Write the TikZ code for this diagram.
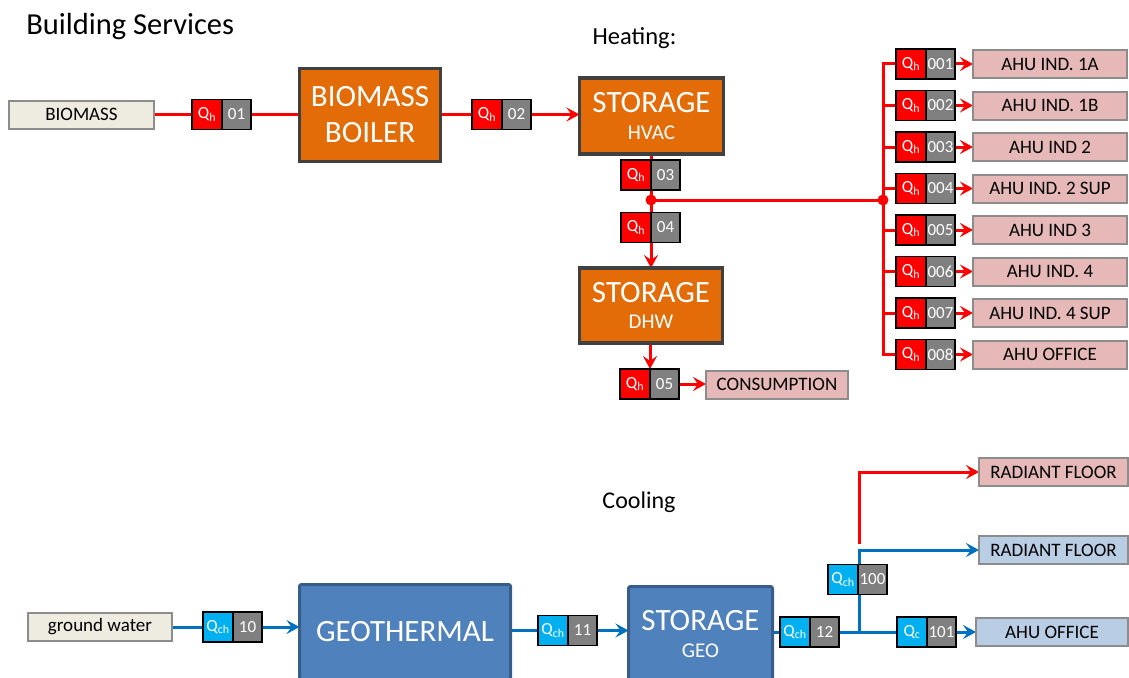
\documentclass[tikz,border=0pt]{standalone}
\usepackage{fontspec}
\setmainfont{Carlito}
\usetikzlibrary{arrows.meta}
\definecolor{hred}{HTML}{FF0000}
\definecolor{cblue}{HTML}{0070C0}
\definecolor{qblue}{HTML}{00B0F0}
\definecolor{ngray}{HTML}{808080}
\definecolor{boxorange}{HTML}{E36C09}
\definecolor{boxorangeb}{HTML}{404040}
\definecolor{boxblue}{HTML}{4F81BD}
\definecolor{boxblueb}{HTML}{385D8A}
\definecolor{pinkbox}{HTML}{E6B9B8}
\definecolor{lbluebox}{HTML}{B9CDE5}
\definecolor{beige}{HTML}{EEECE1}
\definecolor{lgray}{HTML}{8C8C8C}
\pgfdeclarelayer{bg}
\pgfsetlayers{bg,main}
\newcommand{\qbadge}[6]{%
  \node[qpart,fill=#4,anchor=west] (#1q) at (#2,#3) {Q\textsubscript{#5}};
  \node[npart,anchor=west] (#1n) at (#1q.east) {#6};}
\begin{document}
\begin{tikzpicture}[x=1pt,y=-1pt,
  every node/.style={outer sep=0pt},
  qpart/.style={draw=black,line width=1.2pt,minimum width=30pt,minimum height=30pt,inner sep=0pt,text=white,font=\fontsize{17}{19}\selectfont},
  npart/.style={qpart,fill=ngray,minimum width=29pt},
  lbl/.style={draw=lgray,line width=2pt,minimum height=28pt,inner sep=0pt,text=black,font=\fontsize{19}{21}\selectfont},
  pink/.style={lbl,fill=pinkbox},
  lblue/.style={lbl,fill=lbluebox},
  obox/.style={draw=boxorangeb,fill=boxorange,line width=3.5pt,inner sep=0pt,text=white,align=center},
  bbox/.style={draw=boxblueb,fill=boxblue,line width=3pt,rounded corners=2pt,inner sep=0pt,text=white,align=center},
  hl/.style={draw=hred,line width=3pt},
  cl/.style={draw=cblue,line width=3pt},
  arr/.style={-{Stealth[length=13pt,width=14pt,inset=5pt]}},
  dot/.style={circle,fill=hred,inner sep=0pt,minimum size=11pt}
]
\useasboundingbox (0,0) rectangle (1129,677);

% titles
\node[anchor=base west,font=\fontsize{30.5}{33}\selectfont] (title) at (23,35) {Building Services};
\node[anchor=base,font=\fontsize{24.5}{27}\selectfont] (heating) at (634.5,45) {Heating:};
\node[anchor=base,font=\fontsize{24}{27}\selectfont] (cooling) at (639,508) {Cooling};

% ---------- heating ----------
\node[lbl,fill=beige,minimum width=145pt] (biomass) at (81.5,114.5) {BIOMASS};
\qbadge{b01}{192}{114.5}{hred}{h}{01}
\node[obox,minimum width=141pt,minimum height=93pt,font=\fontsize{31}{36}\selectfont] (boiler) at (370,115) {BIOMASS\\BOILER};
\qbadge{b02}{472}{114.5}{hred}{h}{02}
\node[obox,minimum width=144pt,minimum height=76pt] (hvac) at (651.5,116)
  {{\fontsize{31}{31}\selectfont STORAGE}\\[12pt]{\fontsize{21}{23}\selectfont HVAC}};
\qbadge{b03}{621}{175}{hred}{h}{03}
\node[dot] (j1) at (651,200) {};
\node[dot] (j2) at (883,200) {};
\qbadge{b04}{621}{227.5}{hred}{h}{04}
\node[obox,minimum width=143pt,minimum height=75pt] (dhw) at (651,305.5)
  {{\fontsize{31}{31}\selectfont STORAGE}\\[12pt]{\fontsize{21}{23}\selectfont DHW}};
\qbadge{b05}{620}{384}{hred}{h}{05}
\node[pink,minimum width=142pt] (cons) at (777,384.5) {CONSUMPTION};

% AHU column
\qbadge{r1}{896}{64}{hred}{h}{001}
\qbadge{r2}{896}{105.5}{hred}{h}{002}
\qbadge{r3}{896}{147}{hred}{h}{003}
\qbadge{r4}{896}{188.5}{hred}{h}{004}
\qbadge{r5}{896}{230}{hred}{h}{005}
\qbadge{r6}{896}{271.5}{hred}{h}{006}
\qbadge{r7}{896}{313}{hred}{h}{007}
\qbadge{r8}{896}{354.5}{hred}{h}{008}
\node[pink,minimum width=154pt] (a1) at (1050,64) {AHU IND. 1A};
\node[pink,minimum width=154pt] (a2) at (1050,105.5) {AHU IND. 1B};
\node[pink,minimum width=154pt] (a3) at (1050,147) {AHU IND 2};
\node[pink,minimum width=154pt] (a4) at (1050,188.5) {AHU IND. 2 SUP};
\node[pink,minimum width=154pt] (a5) at (1050,230) {AHU IND 3};
\node[pink,minimum width=154pt] (a6) at (1050,271.5) {AHU IND. 4};
\node[pink,minimum width=154pt] (a7) at (1050,313) {AHU IND. 4 SUP};
\node[pink,minimum width=154pt] (a8) at (1050,354.5) {AHU OFFICE};

\begin{pgfonlayer}{bg}
\draw[hl] (biomass.east) -- (b01q.west);
\draw[hl] (b01n.east) -- (boiler.west |- b01n.east);
\draw[hl] (boiler.east |- b02q.west) -- (b02q.west);
\draw[hl,arr] (b02n.east) -- (hvac.west |- b02n.east);
\draw[hl] (hvac.south -| j1) -- (j1.center);
\draw[hl] (j1.center) -- (j2.center);
\draw[hl,arr] (j1.center) -- (dhw.north -| j1);
\draw[hl,arr] (dhw.south -| b05q.north east) -- (b05q.north east);
\draw[hl,arr] (b05n.east) -- (cons.west |- b05n.east);
\foreach \i in {1,...,8} {
  \draw[hl] (j2.center) |- (r\i q.west);
  \draw[hl,arr] (r\i n.east) -- (a\i.west |- r\i n.east);
}
\end{pgfonlayer}

% ---------- cooling ----------
\node[lbl,fill=beige,minimum width=144pt] (gw) at (100,627) {ground water};
\qbadge{b10}{203}{627}{qblue}{ch}{10}
\node[bbox,minimum width=211pt,minimum height=95pt,font=\fontsize{31}{33}\selectfont] (geo) at (405,632) {GEOTHERMAL};
\qbadge{b11}{538}{630.5}{qblue}{ch}{11}
\node[bbox,minimum width=144pt,minimum height=95pt] (sgeo) at (700.5,634)
  {{\fontsize{31}{31}\selectfont STORAGE}\\[12pt]{\fontsize{21}{23}\selectfont GEO}};
\qbadge{b12}{780}{632}{qblue}{ch}{12}
\coordinate (j3) at (859,632);
\qbadge{b100}{828}{579.5}{qblue}{ch}{100}
\qbadge{b101}{897}{632}{qblue}{c}{101}
\node[lblue,minimum width=152pt] (ahuo) at (1052,632) {AHU OFFICE};
\node[lblue,minimum width=149pt] (rfb) at (1053.5,550) {RADIANT FLOOR};
\node[pink,minimum width=149pt] (rfr) at (1053.5,472) {RADIANT FLOOR};
\coordinate (cred) at (859,544);

\begin{pgfonlayer}{bg}
\draw[cl] (gw.east) -- (b10q.west);
\draw[cl,arr] (b10n.east) -- (geo.west |- b10n.east);
\draw[cl] (geo.east |- b11q.west) -- (b11q.west);
\draw[cl,arr] (b11n.east) -- (sgeo.west |- b11n.east);
\draw[cl] (sgeo.east |- b12q.west) -- (b12q.west);
\draw[cl] (b12n.east) -- (j3) -- (b101q.west);
\draw[cl,arr] (b101n.east) -- (ahuo.west |- b101n.east);
\draw[cl,arr] (j3) |- (rfb.west);
\draw[hl,arr] (cred) |- (rfr.west);
\end{pgfonlayer}
\end{tikzpicture}
\end{document}
